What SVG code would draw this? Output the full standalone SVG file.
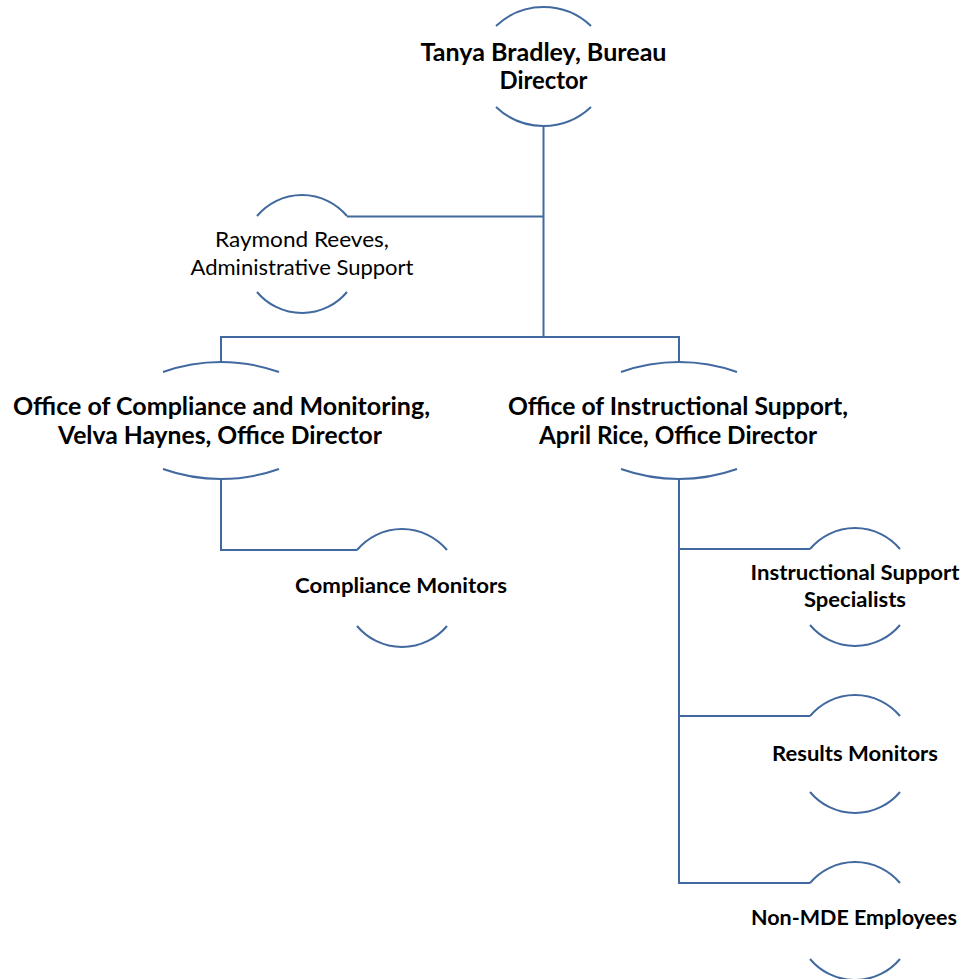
<svg xmlns="http://www.w3.org/2000/svg" width="965" height="979" viewBox="0 0 965 979">
<style>
.arc{fill:none;stroke:#41699f;stroke-width:2}
.ln{fill:none;stroke:#41699f;stroke-width:2}
.b{font-family:Lato,"Liberation Sans",sans-serif;font-weight:bold;fill:#000;text-anchor:middle}
.r{font-family:Lato,"Liberation Sans",sans-serif;font-weight:normal;fill:#000;text-anchor:middle}
.big{font-size:24px}
.sm{font-size:21.5px}
</style>
<rect width="965" height="979" fill="#fff"/>
<g id="connectors">
<path class="ln" d="M543.5,125 V337"/>
<path class="ln" d="M347,216.5 H543.5"/>
<path class="ln" d="M221,337 H679"/>
<path class="ln" d="M221,336 V362"/>
<path class="ln" d="M679,336 V362"/>
<path class="ln" d="M221,479 V550 H357"/>
<path class="ln" d="M679,479 V883 H810"/>
<path class="ln" d="M679,549 H810"/>
<path class="ln" d="M679,716 H810"/>
</g>
<g id="node-director">
<path class="arc" d="M496,26 A69,69 0 0 1 591,26"/>
<path class="arc" d="M496,107 A69,69 0 0 0 591,107"/>
<text class="b big" x="543.5" y="61" textLength="246" lengthAdjust="spacingAndGlyphs">Tanya Bradley, Bureau</text>
<text class="b big" x="543.5" y="89" textLength="88" lengthAdjust="spacingAndGlyphs">Director</text>
</g>
<g id="node-raymond">
<path class="arc" d="M257,216 A58.7,58.7 0 0 1 347,216"/>
<path class="arc" d="M257,292 A58.7,58.7 0 0 0 347,292"/>
<text class="r sm" x="302" y="247" textLength="174" lengthAdjust="spacingAndGlyphs">Raymond Reeves,</text>
<text class="r sm" x="302" y="275" textLength="223" lengthAdjust="spacingAndGlyphs">Administrative Support</text>
</g>
<g id="node-compliance-office">
<path class="arc" d="M163,372 A173,173 0 0 1 279,372"/>
<path class="arc" d="M163,469 A173,173 0 0 0 279,469"/>
<text class="b big" x="221.5" y="415" textLength="417" lengthAdjust="spacingAndGlyphs">Office of Compliance and Monitoring,</text>
<text class="b big" x="220" y="444" textLength="324" lengthAdjust="spacingAndGlyphs">Velva Haynes, Office Director</text>
</g>
<g id="node-instructional-office">
<path class="arc" d="M621,372 A173,173 0 0 1 737,372"/>
<path class="arc" d="M621,469 A173,173 0 0 0 737,469"/>
<text class="b big" x="678" y="415" textLength="340" lengthAdjust="spacingAndGlyphs">Office of Instructional Support,</text>
<text class="b big" x="678" y="444" textLength="278" lengthAdjust="spacingAndGlyphs">April Rice, Office Director</text>
</g>
<g id="node-compliance-monitors">
<path class="arc" d="M357,550 A58.7,58.7 0 0 1 447,550"/>
<path class="arc" d="M357,626 A58.7,58.7 0 0 0 447,626"/>
<text class="b sm" x="401" y="593" textLength="212" lengthAdjust="spacingAndGlyphs">Compliance Monitors</text>
</g>
<g id="node-iss">
<path class="arc" d="M810,549 A58.7,58.7 0 0 1 900,549"/>
<path class="arc" d="M810,625 A58.7,58.7 0 0 0 900,625"/>
<text class="b sm" x="855" y="580" textLength="209" lengthAdjust="spacingAndGlyphs">Instructional Support</text>
<text class="b sm" x="855" y="607" textLength="102" lengthAdjust="spacingAndGlyphs">Specialists</text>
</g>
<g id="node-results">
<path class="arc" d="M810,716 A58.7,58.7 0 0 1 900,716"/>
<path class="arc" d="M810,792 A58.7,58.7 0 0 0 900,792"/>
<text class="b sm" x="855" y="761" textLength="166" lengthAdjust="spacingAndGlyphs">Results Monitors</text>
</g>
<g id="node-nonmde">
<path class="arc" d="M810,883 A58.7,58.7 0 0 1 900,883"/>
<path class="arc" d="M810,959 A58.7,58.7 0 0 0 900,959"/>
<text class="b sm" x="854" y="925" textLength="206" lengthAdjust="spacingAndGlyphs">Non-MDE Employees</text>
</g>
</svg>
